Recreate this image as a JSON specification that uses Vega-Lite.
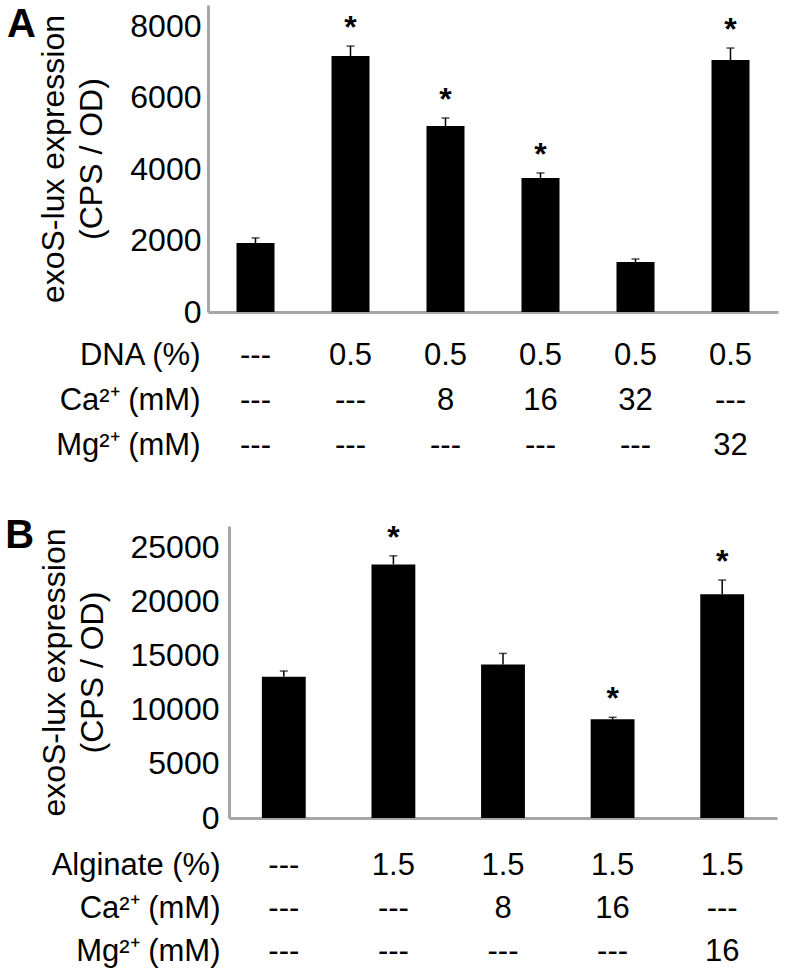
{
  "$schema": "https://vega.github.io/schema/vega-lite/v6.json",
  "padding": 5,
  "background": "white",
  "datasets": {
    "barsA": [
      {"cond": "c1", "value": 1930, "err": 2075, "sig": ""},
      {"cond": "c2", "value": 7170, "err": 7450, "sig": "*"},
      {"cond": "c3", "value": 5210, "err": 5435, "sig": "*"},
      {"cond": "c4", "value": 3755, "err": 3895, "sig": "*"},
      {"cond": "c5", "value": 1400, "err": 1485, "sig": ""},
      {"cond": "c6", "value": 7060, "err": 7395, "sig": "*"}
    ],
    "tableA": [
      {"cond": "c1", "row": "DNA (%)", "val": "---"},
      {"cond": "c2", "row": "DNA (%)", "val": "0.5"},
      {"cond": "c3", "row": "DNA (%)", "val": "0.5"},
      {"cond": "c4", "row": "DNA (%)", "val": "0.5"},
      {"cond": "c5", "row": "DNA (%)", "val": "0.5"},
      {"cond": "c6", "row": "DNA (%)", "val": "0.5"},
      {"cond": "c1", "row": "Ca²⁺ (mM)", "val": "---"},
      {"cond": "c2", "row": "Ca²⁺ (mM)", "val": "---"},
      {"cond": "c3", "row": "Ca²⁺ (mM)", "val": "8"},
      {"cond": "c4", "row": "Ca²⁺ (mM)", "val": "16"},
      {"cond": "c5", "row": "Ca²⁺ (mM)", "val": "32"},
      {"cond": "c6", "row": "Ca²⁺ (mM)", "val": "---"},
      {"cond": "c1", "row": "Mg²⁺ (mM)", "val": "---"},
      {"cond": "c2", "row": "Mg²⁺ (mM)", "val": "---"},
      {"cond": "c3", "row": "Mg²⁺ (mM)", "val": "---"},
      {"cond": "c4", "row": "Mg²⁺ (mM)", "val": "---"},
      {"cond": "c5", "row": "Mg²⁺ (mM)", "val": "---"},
      {"cond": "c6", "row": "Mg²⁺ (mM)", "val": "32"}
    ],
    "barsB": [
      {"cond": "c1", "value": 13050, "err": 13590, "sig": ""},
      {"cond": "c2", "value": 23450, "err": 24240, "sig": "*"},
      {"cond": "c3", "value": 14200, "err": 15220, "sig": ""},
      {"cond": "c4", "value": 9120, "err": 9310, "sig": "*"},
      {"cond": "c5", "value": 20700, "err": 22000, "sig": "*"}
    ],
    "tableB": [
      {"cond": "c1", "row": "Alginate (%)", "val": "---"},
      {"cond": "c2", "row": "Alginate (%)", "val": "1.5"},
      {"cond": "c3", "row": "Alginate (%)", "val": "1.5"},
      {"cond": "c4", "row": "Alginate (%)", "val": "1.5"},
      {"cond": "c5", "row": "Alginate (%)", "val": "1.5"},
      {"cond": "c1", "row": "Ca²⁺ (mM)", "val": "---"},
      {"cond": "c2", "row": "Ca²⁺ (mM)", "val": "---"},
      {"cond": "c3", "row": "Ca²⁺ (mM)", "val": "8"},
      {"cond": "c4", "row": "Ca²⁺ (mM)", "val": "16"},
      {"cond": "c5", "row": "Ca²⁺ (mM)", "val": "---"},
      {"cond": "c1", "row": "Mg²⁺ (mM)", "val": "---"},
      {"cond": "c2", "row": "Mg²⁺ (mM)", "val": "---"},
      {"cond": "c3", "row": "Mg²⁺ (mM)", "val": "---"},
      {"cond": "c4", "row": "Mg²⁺ (mM)", "val": "---"},
      {"cond": "c5", "row": "Mg²⁺ (mM)", "val": "16"}
    ]
  },
  "vconcat": [
    {
      "spacing": 5,
      "vconcat": [
        {
          "width": 570,
          "height": 307,
          "title": {"text": "A", "orient": "left", "anchor": "end", "angle": 0, "align": "right", "baseline": "top", "offset": -27, "dy": 0, "fontSize": 40, "fontWeight": "bold", "color": "black"},
          "data": {"name": "barsA"},
          "encoding": {
            "x": {"field": "cond", "type": "nominal", "sort": null, "scale": {"type": "band", "paddingInner": 0.6, "paddingOuter": 0.3}, "axis": {"labels": false, "ticks": false, "title": null, "domainColor": "#a6a6a6", "domainWidth": 3}}
          },
          "layer": [
            {
              "mark": {"type": "bar", "color": "black"},
              "encoding": {
                "y": {"field": "value", "type": "quantitative", "scale": {"domain": [0, 8600], "nice": false}, "axis": {"values": [0, 2000, 4000, 6000, 8000], "format": "d", "grid": false, "ticks": false, "labelFontSize": 32, "labelPadding": 7, "labelColor": "black", "title": ["exoS-lux expression", "(CPS / OD)"], "titleFontSize": 32, "titleFontWeight": "normal", "titleLineHeight": 38, "titlePadding": 21, "titleColor": "black", "domainColor": "#a6a6a6", "domainWidth": 3}}
              }
            },
            {
              "mark": {"type": "rule", "color": "black", "strokeWidth": 1.5},
              "encoding": {"y": {"field": "value", "type": "quantitative"}, "y2": {"field": "err"}}
            },
            {
              "mark": {"type": "tick", "color": "black", "size": 8, "thickness": 1.5},
              "encoding": {"y": {"field": "err", "type": "quantitative"}}
            },
            {
              "mark": {"type": "text", "color": "black", "fontSize": 32, "fontWeight": "bold", "baseline": "alphabetic", "dy": -8},
              "encoding": {"y": {"field": "err", "type": "quantitative"}, "text": {"field": "sig"}}
            }
          ]
        },
        {
          "width": 570,
          "height": 135,
          "data": {"name": "tableA"},
          "mark": {"type": "text", "fontSize": 31, "color": "black"},
          "encoding": {
            "x": {"field": "cond", "type": "nominal", "sort": null, "scale": {"type": "point", "padding": 0.5}, "axis": null},
            "y": {"field": "row", "type": "nominal", "sort": null, "scale": {"type": "point", "padding": 0.5}, "axis": {"domain": false, "ticks": false, "grid": false, "title": null, "labelFontSize": 31, "labelPadding": 8, "labelColor": "black"}},
            "text": {"field": "val"}
          }
        }
      ]
    },
    {
      "spacing": 10,
      "vconcat": [
        {
          "width": 569,
          "height": 292,
          "title": {"text": "B", "orient": "left", "anchor": "end", "angle": 0, "align": "right", "baseline": "top", "offset": -25, "dy": -6, "fontSize": 40, "fontWeight": "bold", "color": "black"},
          "data": {"name": "barsB"},
          "encoding": {
            "x": {"field": "cond", "type": "nominal", "sort": null, "scale": {"type": "band", "paddingInner": 0.6, "paddingOuter": 0.3, "range": [21, 569]}, "axis": {"labels": false, "ticks": false, "title": null, "domainColor": "#a6a6a6", "domainWidth": 3}}
          },
          "layer": [
            {
              "mark": {"type": "bar", "color": "black"},
              "encoding": {
                "y": {"field": "value", "type": "quantitative", "scale": {"domain": [0, 27000], "nice": false}, "axis": {"offset": -21, "values": [0, 5000, 10000, 15000, 20000, 25000], "format": "d", "grid": false, "ticks": false, "labelFontSize": 32, "labelPadding": 10, "labelColor": "black", "title": ["exoS-lux expression", "(CPS / OD)"], "titleFontSize": 32, "titleFontWeight": "normal", "titleLineHeight": 38, "titlePadding": 21, "titleColor": "black", "domainColor": "#a6a6a6", "domainWidth": 3}}
              }
            },
            {
              "mark": {"type": "rule", "color": "black", "strokeWidth": 1.5},
              "encoding": {"y": {"field": "value", "type": "quantitative"}, "y2": {"field": "err"}}
            },
            {
              "mark": {"type": "tick", "color": "black", "size": 8, "thickness": 1.5},
              "encoding": {"y": {"field": "err", "type": "quantitative"}}
            },
            {
              "mark": {"type": "text", "color": "black", "fontSize": 32, "fontWeight": "bold", "baseline": "alphabetic", "dy": -8},
              "encoding": {"y": {"field": "err", "type": "quantitative"}, "text": {"field": "sig"}}
            }
          ]
        },
        {
          "width": 569,
          "height": 129,
          "data": {"name": "tableB"},
          "mark": {"type": "text", "fontSize": 31, "color": "black"},
          "encoding": {
            "x": {"field": "cond", "type": "nominal", "sort": null, "scale": {"type": "point", "padding": 0.5, "range": [21, 569]}, "axis": null},
            "y": {"field": "row", "type": "nominal", "sort": null, "scale": {"type": "point", "padding": 0.5}, "axis": {"offset": -21, "domain": false, "ticks": false, "grid": false, "title": null, "labelFontSize": 31, "labelPadding": 9, "labelColor": "black"}},
            "text": {"field": "val"}
          }
        }
      ]
    }
  ],
  "spacing": 47,
  "config": {
    "font": "Liberation Sans",
    "view": {"stroke": null},
    "axis": {"labelFont": "Liberation Sans", "titleFont": "Liberation Sans"},
    "title": {"font": "Liberation Sans"}
  }
}
